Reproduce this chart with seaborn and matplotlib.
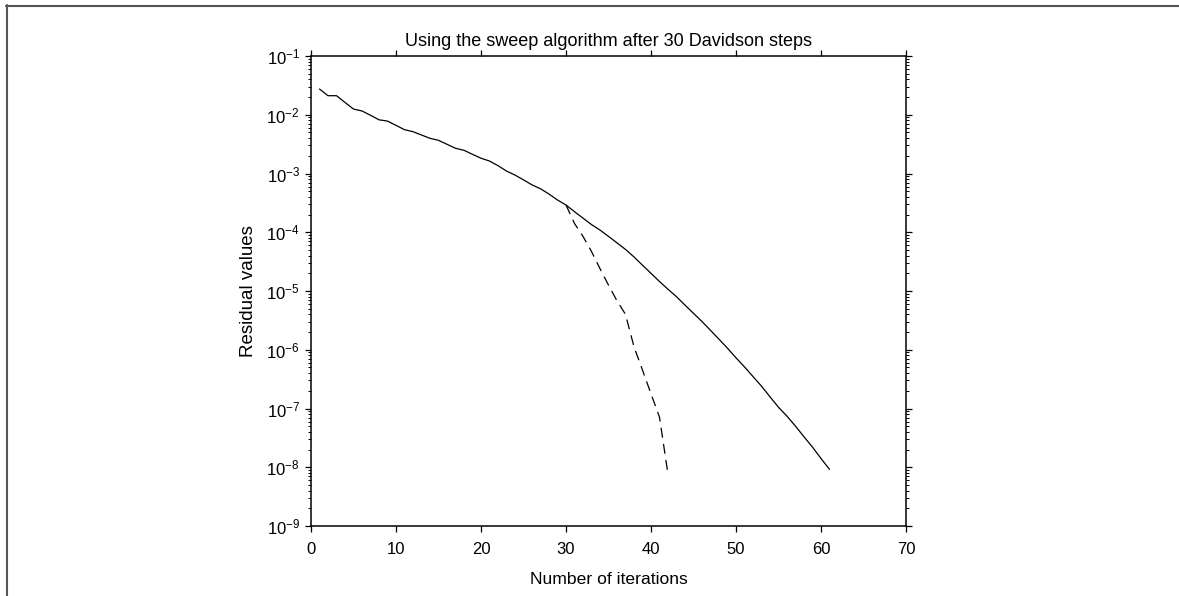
import numpy as np
import pandas as pd
import matplotlib
matplotlib.use("Agg")
import matplotlib.pyplot as plt
from matplotlib.lines import Line2D
from matplotlib.ticker import LogLocator, FixedLocator
import seaborn as sns

# ---- data ----
davidson_iter = list(range(1, 62))
davidson_resid = [
    2.74e-2, 2.11e-2, 2.11e-2, 1.62e-2, 1.25e-2, 1.16e-2, 9.8e-3, 8.2e-3, 7.8e-3, 6.6e-3,
    5.57e-3, 5.15e-3, 4.52e-3, 3.97e-3, 3.67e-3, 3.14e-3, 2.69e-3, 2.48e-3, 2.12e-3, 1.82e-3,
    1.63e-3, 1.36e-3, 1.10e-3, 9.4e-4, 7.8e-4, 6.4e-4, 5.5e-4, 4.47e-4, 3.54e-4, 2.91e-4,
    2.24e-4, 1.74e-4, 1.35e-4, 1.09e-4, 8.5e-5, 6.6e-5, 5.1e-5, 3.8e-5, 2.75e-5, 2.0e-5,
    1.45e-5, 1.07e-5, 8.0e-6, 5.75e-6, 4.17e-6, 3.02e-6, 2.14e-6, 1.51e-6, 1.06e-6, 7.3e-7,
    5.1e-7, 3.5e-7, 2.4e-7, 1.58e-7, 1.05e-7, 7.4e-8, 5.0e-8, 3.3e-8, 2.2e-8, 1.41e-8,
    9.2e-9,
]
sweep_iter = list(range(30, 43))
sweep_resid = [
    2.91e-4, 1.41e-4, 8.5e-5, 4.7e-5, 2.4e-5, 1.26e-5, 6.8e-6, 4.0e-6,
    1.12e-6, 4.5e-7, 1.78e-7, 7.1e-8, 7.6e-9,
]

title = "Using the sweep algorithm after 30 Davidson steps"
xlabel = "Number of iterations"
ylabel = "Residual values"
xticks = [0, 10, 20, 30, 40, 50, 60, 70]

df_d = pd.DataFrame({"it": davidson_iter, "res": davidson_resid})
df_s = pd.DataFrame({"it": sweep_iter, "res": sweep_resid})

sns.set_theme(style="ticks")
plt.rcParams["font.family"] = ["Liberation Sans", "DejaVu Sans"]
plt.rcParams["mathtext.fontset"] = "custom"
plt.rcParams["mathtext.rm"] = "Liberation Sans"
plt.rcParams["mathtext.it"] = "Liberation Sans:italic"
plt.rcParams["mathtext.bf"] = "Liberation Sans:bold"

fig = plt.figure(figsize=(11.79, 5.96), dpi=100)
ax = fig.add_axes([311 / 1179, 70 / 596, 595 / 1179, 470 / 596])

sns.lineplot(data=df_d, x="it", y="res", ax=ax, color="black", linewidth=0.9)
sns.lineplot(data=df_s, x="it", y="res", ax=ax, color="black", linewidth=0.9,
             linestyle=(0, (8, 5)))

ax.set_yscale("log")
ax.set_ylim(1e-9, 1e-1)
ax.set_xlim(0, 70)
ax.xaxis.set_major_locator(FixedLocator(xticks))
ax.yaxis.set_major_locator(LogLocator(base=10, numticks=20))
ax.yaxis.set_minor_locator(LogLocator(base=10, subs=np.arange(2, 10), numticks=100))

for s in ax.spines.values():
    s.set_visible(True)
    s.set_linewidth(1.1)
    s.set_color("black")

ax.tick_params(which="both", direction="out", top=True, right=True,
               color="black", labelsize=12, labelcolor="black")
ax.tick_params(which="major", length=4.5, width=0.9)
ax.tick_params(axis="x", which="major", pad=7)
ax.tick_params(axis="y", which="major", pad=3.5)
ax.tick_params(which="minor", length=2.5, width=0.7)

ax.set_title(title, fontsize=13, pad=7.5, color="black")
ax.set_xlabel(xlabel, fontsize=12.6, labelpad=10.5, color="black")
ax.set_ylabel(ylabel, fontsize=13.5, labelpad=7, color="black")

# thin gray frame fragments at top and left of the figure
fig.add_artist(Line2D([6 / 1179, 1.0], [1 - 5.5 / 596, 1 - 5.5 / 596],
                      transform=fig.transFigure, color="#555555", linewidth=1.5))
fig.add_artist(Line2D([6.5 / 1179, 6.5 / 1179], [0.0, 1 - 5 / 596],
                      transform=fig.transFigure, color="#555555", linewidth=1.5))

fig.savefig("out.png", dpi=100)
